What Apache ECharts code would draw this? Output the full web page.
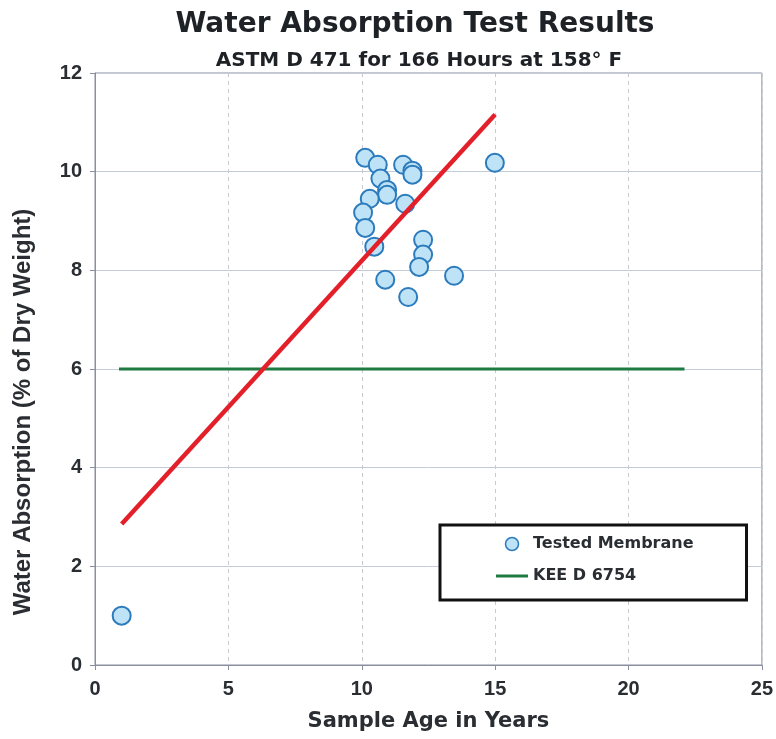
<!DOCTYPE html>
<html><head><meta charset="utf-8">
<script src="https://cdn.jsdelivr.net/npm/echarts@6/dist/echarts.min.js"></script>
<style>html,body{margin:0;padding:0;background:#fff}#c{width:776px;height:739px}</style>
</head><body><div id="c"></div>
<script>
const ageYears = [1.0, 10.13, 10.6, 11.55, 11.9, 11.9, 10.7, 10.95, 10.95, 10.3, 11.63, 10.05, 10.13, 12.3, 10.47, 12.3, 12.15, 10.88, 13.46, 11.74, 14.99];
const absorption = [1.0, 10.28, 10.14, 10.14, 10.02, 9.94, 9.86, 9.63, 9.53, 9.45, 9.35, 9.17, 8.86, 8.62, 8.48, 8.32, 8.07, 7.81, 7.89, 7.46, 10.18];
const trendX = [1, 15];
const trendY = [2.86, 11.16];
const keeX = [0.9, 22.1];
const keeY = [6.0, 6.0];
const xTicks = [0, 5, 10, 15, 20, 25];
const yTicks = [0, 2, 4, 6, 8, 10, 12];

const font = '"Liberation Sans", Arial, sans-serif';
const wide = '"DejaVu Sans", "Liberation Sans", sans-serif';
const chart = echarts.init(document.getElementById('c'));
chart.setOption({
  animation: false,
  backgroundColor: '#fff',
  title: [
    {text: 'Water Absorption Test Results', left: 410, textAlign: 'center', top: 6,
     textStyle: {fontFamily: wide, fontSize: 28, fontWeight: 'bold', color: '#1e2226'}},
    {text: 'ASTM D 471 for 166 Hours at 158° F', left: 414, textAlign: 'center', top: 46,
     textStyle: {fontFamily: wide, fontSize: 20, fontWeight: 'bold', color: '#1e2226'}}
  ],
  grid: {left: 95, right: 11, top: 73, bottom: 74, show: true, borderColor: '#8a8fa0', borderWidth: 1},
  xAxis: {
    type: 'value', min: 0, max: 25, interval: 5,
    name: 'Sample Age in Years', nameLocation: 'middle', nameGap: 46,
    nameTextStyle: {fontFamily: wide, fontSize: 21, fontWeight: 'bold', color: '#2a2e33'},
    axisLine: {show: true, lineStyle: {color: '#8a8fa0'}},
    axisTick: {show: true, length: 5, lineStyle: {color: '#8a8fa0'}},
    axisLabel: {fontFamily: font, fontSize: 20, fontWeight: 'bold', color: '#2a2e33', margin: 14,
      formatter: v => xTicks.includes(v) ? String(v) : ''},
    splitLine: {show: true, lineStyle: {color: '#c8c8d0', type: [4, 4]}}
  },
  yAxis: {
    type: 'value', min: 0, max: 12, interval: 2,
    name: 'Water Absorption (% of Dry Weight)', nameLocation: 'middle', nameGap: 60,
    nameTextStyle: {fontFamily: font, fontSize: 24, fontWeight: 'bold', color: '#2a2e33', padding: [0, 86, 0, 0]},
    axisLine: {show: true, lineStyle: {color: '#8a8fa0'}},
    axisTick: {show: true, length: 5, lineStyle: {color: '#8a8fa0'}},
    axisLabel: {fontFamily: font, fontSize: 20, fontWeight: 'bold', color: '#2a2e33', margin: 13,
      formatter: v => yTicks.includes(v) ? String(v) : ''},
    splitLine: {show: true, lineStyle: {color: '#c4ccda', width: 1}}
  },
  legend: {
    orient: 'vertical', left: 440, top: 525,
    padding: [11, 53, 16, 56], itemGap: 16, itemWidth: 32, itemHeight: 13,
    borderColor: '#111', borderWidth: 3, backgroundColor: '#fff',
    textStyle: {fontFamily: wide, fontSize: 16, fontWeight: 'bold', color: '#2a2e33'},
    data: [
      {name: 'Tested Membrane', icon: 'circle', itemStyle: {color: '#bfe3f6', borderColor: '#2b7bbd', borderWidth: 1.5}},
      {name: 'KEE D 6754', icon: 'path://M0,0H32V3H0Z', itemStyle: {color: '#1e7a40'}}
    ]
  },
  series: [
    {
      name: 'KEE D 6754', type: 'line', data: keeX.map((x, i) => [x, keeY[i]]),
      showSymbol: false, lineStyle: {color: '#1e7a40', width: 3}, itemStyle: {color: '#1e7a40'}, z: 2
    },
    {
      name: 'Tested Membrane', type: 'scatter', data: ageYears.map((x, i) => [x, absorption[i]]),
      symbol: 'circle', symbolSize: 18,
      itemStyle: {color: '#bfe3f6', borderColor: '#2b7bbd', borderWidth: 2, opacity: 1}, z: 3
    },
    {
      name: 'Trend', type: 'line', data: trendX.map((x, i) => [x, trendY[i]]),
      showSymbol: false, lineStyle: {color: '#e3202a', width: 4.5}, itemStyle: {color: '#e3202a'}, z: 4
    }
  ]
});
</script></body></html>
